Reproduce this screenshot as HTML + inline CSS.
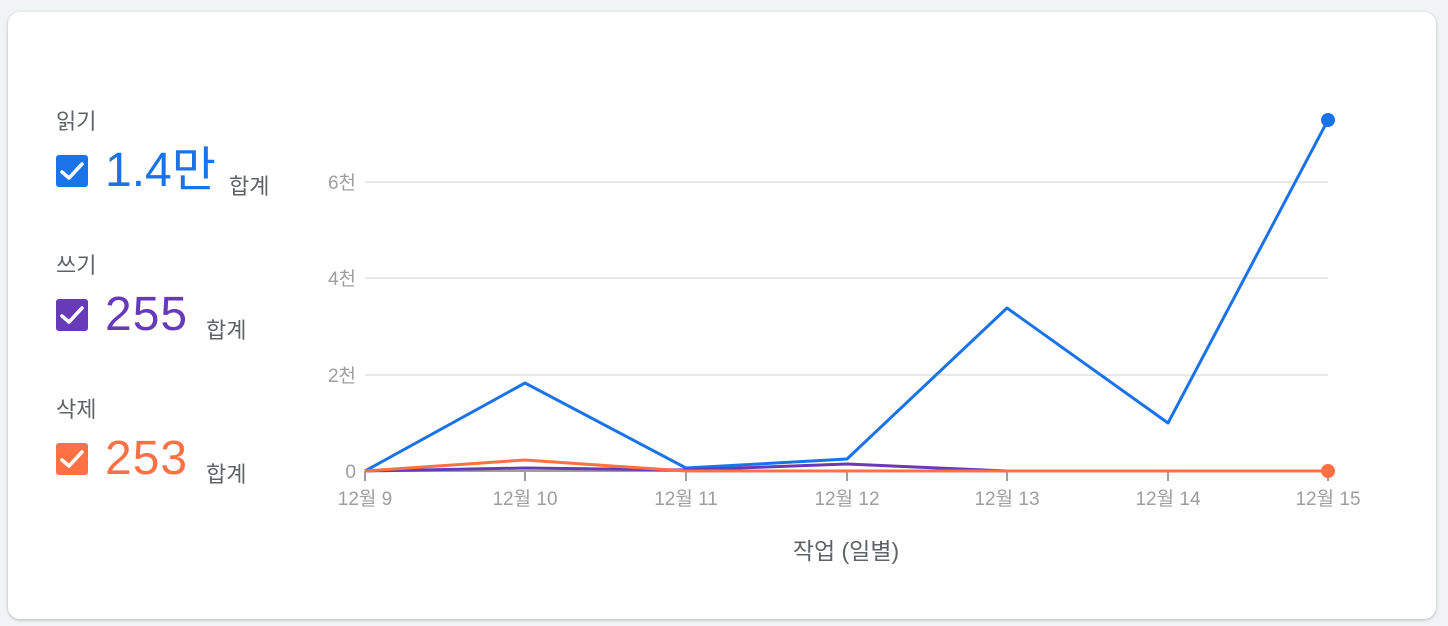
<!DOCTYPE html>
<html><head><meta charset="utf-8"><style>
body{margin:0;width:1448px;height:626px;background:#f1f3f4;font-family:"Liberation Sans","Noto Sans CJK KR",sans-serif;overflow:hidden}
.card{position:absolute;left:8px;top:12px;width:1428px;height:607px;background:#fff;border-radius:12px;box-shadow:0 1px 3px rgba(0,0,0,.25)}
.lab{position:absolute;left:56px;font-size:22px;color:#5f6368}
.cb{position:absolute;left:56px;width:32px;height:32px;border-radius:3px}
.num{position:absolute;left:105px;font-size:48px;line-height:46px;letter-spacing:1px}
.sum{position:absolute;font-size:22px;color:#5f6368}
</style></head><body>
<div class="card"></div>
<div class="lab" style="top:104px">읽기</div>
<div class="cb" style="top:155px;background:#1a73e8"></div>
<div class="num" style="top:148px;color:#1a73e8;letter-spacing:0">1.4만</div>
<div class="sum" style="left:229px;top:169px">합계</div>
<div class="lab" style="top:248px">쓰기</div>
<div class="cb" style="top:299px;background:#673ab7"></div>
<div class="num" style="top:292px;color:#673ab7">255</div>
<div class="sum" style="left:206px;top:313px">합계</div>
<div class="lab" style="top:392px">삭제</div>
<div class="cb" style="top:443px;background:#ff7043"></div>
<div class="num" style="top:436px;color:#ff7043">253</div>
<div class="sum" style="left:206px;top:457px">합계</div>
<svg width="1448" height="626" style="position:absolute;left:0;top:0">
<g stroke="#fff" stroke-width="3.5" fill="none" stroke-linecap="round" stroke-linejoin="round">
<polyline points="62,172 69,178 82,164"/><polyline points="62,316 69,322 82,308"/><polyline points="62,460 69,466 82,452"/>
</g>
<g stroke="#e0e0e0" stroke-width="1.5">
<line x1="365" x2="1328" y1="182" y2="182"/><line x1="365" x2="1328" y1="278" y2="278"/><line x1="365" x2="1328" y1="375" y2="375"/>
</g>
<line x1="365" x2="1328" y1="471" y2="471" stroke="#9e9e9e" stroke-width="2"/>
<g stroke="#9e9e9e" stroke-width="2">
<line x1="365" x2="365" y1="471" y2="481"/><line x1="525" x2="525" y1="471" y2="481"/><line x1="686" x2="686" y1="471" y2="481"/><line x1="847" x2="847" y1="471" y2="481"/><line x1="1007" x2="1007" y1="471" y2="481"/><line x1="1168" x2="1168" y1="471" y2="481"/><line x1="1328" x2="1328" y1="471" y2="481"/>
</g>
<g font-family="Liberation Sans,Noto Sans CJK KR,sans-serif" font-size="19" fill="#9e9e9e">
<g text-anchor="end"><text x="356" y="189">6천</text><text x="356" y="285">4천</text><text x="356" y="382">2천</text><text x="356" y="478">0</text></g>
<g text-anchor="middle"><text x="365" y="505">12월 9</text><text x="525" y="505">12월 10</text><text x="686" y="505">12월 11</text><text x="847" y="505">12월 12</text><text x="1007" y="505">12월 13</text><text x="1168" y="505">12월 14</text><text x="1328" y="505">12월 15</text></g>
</g>
<text x="846" y="559" text-anchor="middle" font-family="Liberation Sans,Noto Sans CJK KR,sans-serif" font-size="23" fill="#5f6368">작업 (일별)</text>
<g fill="none" stroke-width="3" stroke-linejoin="round">
<polyline stroke="#1a73e8" points="365,471 525,383 686,468 847,459 1007,308 1168,423 1328,120"/>
<polyline stroke="#673ab7" points="365,471 525,468 686,470 847,464 1007,471 1168,471 1328,471"/>
<polyline stroke="#ff7043" points="365,471 525,460 686,471 847,471 1007,471 1168,471 1328,471"/>
</g>
<circle cx="1328" cy="120" r="7" fill="#1a73e8"/><circle cx="1328" cy="471" r="7" fill="#ff7043"/>
</svg>
</body></html>
